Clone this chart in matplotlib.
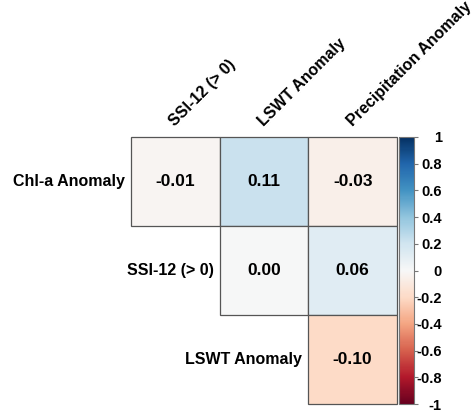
import numpy as np
import matplotlib
matplotlib.use("Agg")
import matplotlib.pyplot as plt
from matplotlib.colors import Normalize
from matplotlib.cm import ScalarMappable
from matplotlib.patches import Rectangle

plt.rcParams['font.family'] = ['Liberation Sans', 'DejaVu Sans']
plt.rcParams['font.weight'] = 'bold'

# data
row_labels = ['Chl-a Anomaly', 'SSI-12 (> 0)', 'LSWT Anomaly']
col_labels = ['SSI-12 (> 0)', 'LSWT Anomaly', 'Precipitation Anomaly']
row0 = [-0.01, 0.11, -0.03]
row1 = [np.nan, 0.00, 0.06]
row2 = [np.nan, np.nan, -0.10]
cbar_ticks = [1, 0.8, 0.6, 0.4, 0.2, 0, -0.2, -0.4, -0.6, -0.8, -1]

vals = np.array([row0, row1, row2])
cmap = plt.get_cmap('RdBu')
cell_norm = Normalize(vmin=-0.5, vmax=0.5)

fig = plt.figure(figsize=(4.75, 4.12), dpi=100)
ax = fig.add_axes([131 / 475, 8 / 412, 266 / 475, 267 / 412])
ax.set_xlim(0, 3)
ax.set_ylim(3, 0)
ax.axis('off')

for i in range(3):
    for j in range(3):
        v = vals[i, j]
        if np.isnan(v):
            continue
        ax.add_patch(Rectangle((j, i), 1, 1, facecolor=cmap(cell_norm(v)),
                               edgecolor='#555555', linewidth=0.9, clip_on=False))
        ax.text(j + 0.5, i + 0.5, '%.2f' % v, ha='center', va='center',
                fontsize=12.5, fontweight='bold', color='black')
    ax.text(i - 0.07, i + 0.5, row_labels[i], ha='right', va='center',
            fontsize=11.5, fontweight='bold')

for j in range(3):
    ax.annotate(col_labels[j], xy=(j + 0.5, 0), xytext=(0, 7), textcoords='offset points',
                rotation=45, rotation_mode='anchor', ha='left', va='baseline',
                fontsize=11.5, fontweight='bold', annotation_clip=False)

cax = fig.add_axes([399 / 475, 8 / 412, 15 / 475, 267 / 412])
sm = ScalarMappable(norm=Normalize(vmin=-1, vmax=1), cmap=cmap)
cb = fig.colorbar(sm, cax=cax, ticks=cbar_ticks)
cb.set_ticklabels(['1', '0.8', '0.6', '0.4', '0.2', '0', '-0.2', '-0.4', '-0.6', '-0.8', '-1'])
cb.outline.set_edgecolor('#777777')
cb.outline.set_linewidth(0.8)
cax.tick_params(length=3, width=0.8, color='#777777', pad=17, labelsize=10.5)
for lab in cax.get_yticklabels():
    lab.set_horizontalalignment('right')
    lab.set_fontweight('bold')

fig.savefig('out.png', dpi=100)
